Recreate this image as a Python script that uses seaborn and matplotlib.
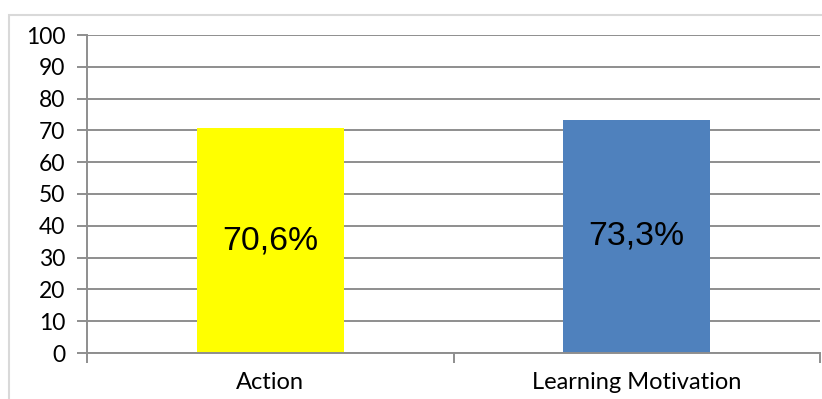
import matplotlib
matplotlib.use("Agg")
import matplotlib.pyplot as plt
import matplotlib.patches as mpatches
import seaborn as sns
import pandas as pd

categories = ["Action", "Learning Motivation"]
values = [70.6, 73.3]
bar_colors = ["#ffff00", "#4f81bd"]
y_ticks = [0, 10, 20, 30, 40, 50, 60, 70, 80, 90, 100]

sns.set_theme(style="white")
plt.rcParams["font.family"] = ["Lato", "DejaVu Sans"]

W, H = 822, 399
fig = plt.figure(figsize=(W / 100, H / 100), dpi=100)

# light frame around the chart area
fig.patches.append(mpatches.Rectangle((9 / W, -0.1), 1.2, 1.1 - 15 / H,
                                      transform=fig.transFigure, fill=False,
                                      edgecolor="#d9d9d9", linewidth=1.5))

ax = fig.add_axes([87 / W, 1 - 353 / H, (820 - 87) / W, (353 - 35) / H])

df = pd.DataFrame({"category": categories, "value": values})
sns.barplot(data=df, x="category", y="value", hue="category",
            palette=bar_colors, width=0.4, saturation=1, legend=False,
            linewidth=0, ax=ax)

ax.set_xlim(-0.5, 1.5)
ax.set_ylim(0, 100)
ax.set_yticks(y_ticks)
ax.set_xlabel("")
ax.set_ylabel("")

grid_color = "#8e8e8e"
ax.set_axisbelow(True)
ax.yaxis.grid(True, color=grid_color, linewidth=1.4)
ax.xaxis.grid(False)

for side in ["top", "right"]:
    ax.spines[side].set_visible(False)
for side in ["left", "bottom"]:
    ax.spines[side].set_color(grid_color)
    ax.spines[side].set_linewidth(1.4)

# category separators as major ticks, names as minor ticks
ax.set_xticks([-0.5, 0.5, 1.5])
ax.set_xticklabels([])
ax.set_xticks([0, 1], minor=True)
ax.set_xticklabels(categories, minor=True)
ax.tick_params(axis="x", which="major", direction="out", length=7.5,
               width=1.4, color=grid_color, bottom=True)
ax.tick_params(axis="x", which="minor", length=0, pad=14, labelsize=17,
               labelcolor="black")
ax.tick_params(axis="y", direction="out", length=7.5, width=1.4,
               color=grid_color, left=True, pad=8, labelsize=16.5,
               labelcolor="black")

for container in ax.containers:
    labels = [f"{v:.1f}%".replace(".", ",") for v in container.datavalues]
    ax.bar_label(container, labels=labels, label_type="center",
                 fontsize=24.3, color="black",
                 family=["Liberation Sans", "DejaVu Sans"])

fig.savefig("out.png", dpi=100)
